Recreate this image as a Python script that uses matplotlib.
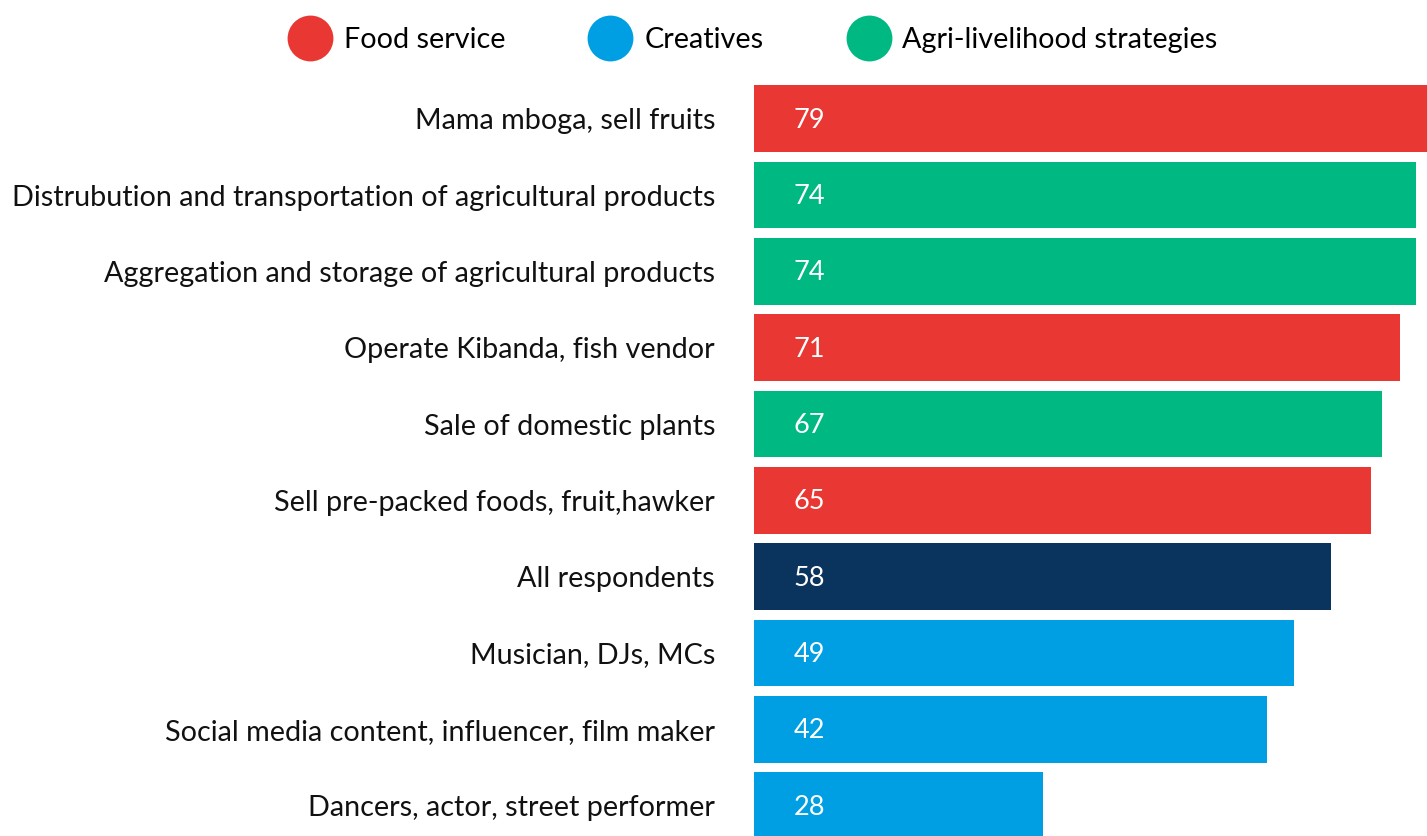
import matplotlib
matplotlib.use("Agg")
import matplotlib.pyplot as plt
from matplotlib.lines import Line2D

categories = [
    "Mama mboga, sell fruits",
    "Distrubution and transportation of agricultural products",
    "Aggregation and storage of agricultural products",
    "Operate Kibanda, fish vendor",
    "Sale of domestic plants",
    "Sell pre-packed foods, fruit,hawker",
    "All respondents",
    "Musician, DJs, MCs",
    "Social media content, influencer, film maker",
    "Dancers, actor, street performer",
]
values = [79, 74, 74, 71, 67, 65, 58, 49, 42, 28]
# bar lengths as drawn in the reference (same units)
bar_lengths = [79.0, 77.7, 77.7, 75.8, 73.7, 72.4, 67.7, 63.4, 60.2, 33.9]
groups = ["Food service", "Agri-livelihood strategies", "Agri-livelihood strategies",
          "Food service", "Agri-livelihood strategies", "Food service", "All",
          "Creatives", "Creatives", "Creatives"]

group_colors = {
    "Food service": "#E93833",
    "Creatives": "#009FE3",
    "Agri-livelihood strategies": "#00B882",
    "All": "#0A335D",
}
legend_groups = ["Food service", "Creatives", "Agri-livelihood strategies"]

plt.rcParams["font.family"] = ["Lato", "DejaVu Sans"]
plt.rcParams["font.weight"] = "normal"

W, H = 1427, 836
fig = plt.figure(figsize=(W / 100, H / 100), dpi=100)
ax = fig.add_axes([754 / W, 0, 673 / W, 1])

ypos = list(range(len(categories)))
colors = [group_colors[g] for g in groups]
ax.barh(ypos, bar_lengths, height=0.87, color=colors)
ax.set_xlim(0, 79)
ax.set_ylim(9.397, -1.555)

ax.set_yticks(ypos)
ax.set_yticklabels(categories, fontsize=20.7, color="#111111")
ax.tick_params(axis="y", length=0, pad=28)
ax.set_xticks([])
for s in ax.spines.values():
    s.set_visible(False)

for y, v in zip(ypos, values):
    ax.annotate(str(v), xy=(0, y), xytext=(40, -1), textcoords="offset points",
                ha="center", va="center", color="white", fontsize=19.5)

handles = [Line2D([], [], marker="o", linestyle="none", markersize=33,
                  markerfacecolor=group_colors[g], markeredgecolor="none")
           for g in legend_groups]
fig.legend(handles, legend_groups, loc="center", bbox_to_anchor=(755 / W, 1 - 40 / H),
           ncol=3, frameon=False, fontsize=20.7, handletextpad=0.58, columnspacing=3.06,
           handlelength=1.2)

fig.savefig("out.png", dpi=100)
